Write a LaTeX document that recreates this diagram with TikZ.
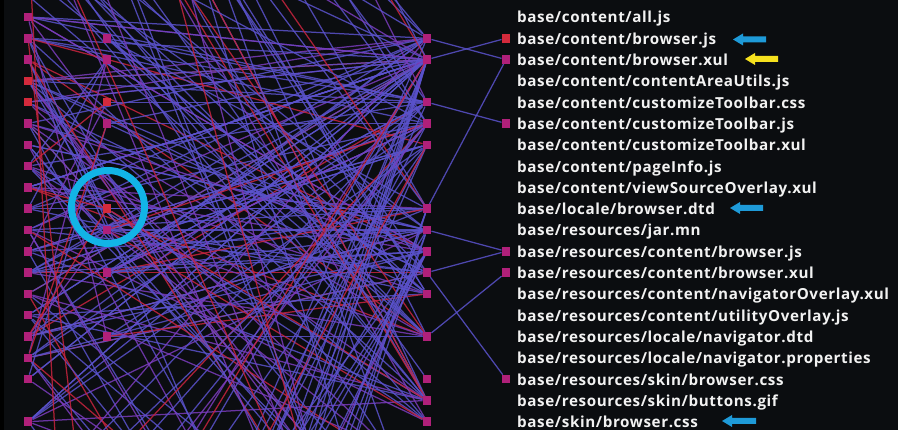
\documentclass[tikz,border=0pt]{standalone}
\usepackage{fontspec}
\setmainfont{Open Sans}
\newfontfamily\lblfont[LetterSpace=4]{Open Sans}
\definecolor{bgc}{HTML}{0B0D10}
\definecolor{lblue}{HTML}{5A52CC}
\definecolor{lpurp}{HTML}{7A3CBC}
\definecolor{lred}{HTML}{C8243E}
\definecolor{nmag}{HTML}{B0207A}
\definecolor{nred}{HTML}{D42A3C}
\definecolor{ringc}{HTML}{12B4E6}
\definecolor{abl}{HTML}{1E9AD8}
\definecolor{ayl}{HTML}{F6E11E}
\pgfdeclarelayer{bg}\pgfdeclarelayer{lines}\pgfsetlayers{bg,lines,main}
\newcommand\pickcol{\pgfmathtruncatemacro\myrc{random(1,20)}%
  \ifnum\myrc<14 \def\mylc{lblue}\else\ifnum\myrc<18 \def\mylc{lpurp}\else\def\mylc{lred}\fi\fi}
\begin{document}
\begin{tikzpicture}[x=1pt,y=-1pt,
  sq/.style={rectangle, inner sep=0pt, minimum size=8.5pt, fill=nmag},
  sqr/.style={sq, fill=nred},
  lk/.style={line width=1.25pt, draw opacity=0.85},
  lbl/.style={anchor=base west, text=white!95!black, font=\lblfont\bfseries\fontsize{15.2}{15}\selectfont, inner sep=0pt},
]
\begin{pgfonlayer}{bg}
\fill[bgc] (0,0) rectangle (898,430);
\fill[black] (0,0) rectangle (4,430);
\end{pgfonlayer}
\useasboundingbox (0,0) rectangle (898,430);
% positions
\foreach \k in {-40,...,80}{
  \coordinate (A\k) at (28,{17+21.3*\k});
  \coordinate (B\k) at (107,{17+21.3*\k});
  \coordinate (C\k) at (427,{17+21.3*\k});
  \coordinate (D\k) at (506,{17+21.3*\k});
}
% visible nodes
\foreach \k in {0,1,2,5,6,7,8,9,10,11,12,13,14,15,16,17,19} \node[sq] (A\k) at (A\k) {};
\foreach \k in {3,4} \node[sqr] (A\k) at (A\k) {};
\foreach \k in {1,2,5,10,12,15} \node[sq] (B\k) at (B\k) {};
\foreach \k in {4,9} \node[sqr] (B\k) at (B\k) {};
\foreach \k in {1,2,4,5,6,9,10,11,12,13,15,17,18,19} \node[sq] (C\k) at (C\k) {};
\foreach \k in {2,5,11,12,17} \node[sq] (D\k) at (D\k) {};
\node[sqr] (D1) at (D1) {};
% connectors
\begin{pgfonlayer}{lines}
\pgfmathsetseed{7}
\foreach \i in {1,...,90}{
  \pgfmathtruncatemacro\ms{{0,1,2,3,4,5,6,7,8,9,10,11,12,13,14,15,16,17,19}[random(0,18)]}
  \pgfmathtruncatemacro\mt{{1,1,1,2,2,2,2,4,5,6,9,10,10,11,11,12,12,12,13,15,17,18,19}[random(0,22)]}
  \pickcol
  \draw[lk,draw=\mylc] (A\ms) -- (C\mt);
}
\foreach \i in {1,...,30}{
  \pgfmathtruncatemacro\ms{{1,2,4,5,9,10,12,15}[random(0,7)]}
  \pgfmathtruncatemacro\mt{{1,2,2,4,5,6,9,10,11,12,13,15,17,18,19}[random(0,14)]}
  \pickcol
  \draw[lk,draw=\mylc] (B\ms) -- (C\mt);
}
\foreach \i in {1,...,25}{
  \pgfmathtruncatemacro\ms{random(-25,-1)}
  \pgfmathtruncatemacro\mt{{9,10,11,12,13,15,17,18,19,19,18}[random(0,10)]}
  \pickcol
  \draw[lk,draw=\mylc] (A\ms) -- (C\mt);
}
\foreach \i in {1,...,30}{
  \pgfmathtruncatemacro\ms{{0,1,2,3,4,5,6,7,8,9,10,11,12,13,14,15,16,17,19}[random(0,18)]}
  \pgfmathtruncatemacro\mt{random(21,45)}
  \pickcol
  \draw[lk,draw=\mylc] (A\ms) -- (C\mt);
}
\foreach \i in {1,...,36}{
  \pgfmathtruncatemacro\ms{random(20,70)}
  \pgfmathtruncatemacro\mt{{1,1,2,2,4,5,6,9,10,11}[random(0,9)]}
  \pickcol
  \draw[lk,draw=\mylc] (A\ms) -- (C\mt);
}
\foreach \i in {1,...,15}{
  \pgfmathtruncatemacro\ms{{0,1,2,3,4,5,6,7,8,9,10,11,12,13,14,15,16,17,19}[random(0,18)]}
  \pgfmathtruncatemacro\mt{{1,2,4,5,9,10,12,15}[random(0,7)]}
  \pickcol
  \draw[lk,draw=\mylc] (A\ms) -- (B\mt);
}
\foreach \i in {1,...,12}{
  \pgfmathtruncatemacro\ms{random(-30,-3)}
  \pgfmathtruncatemacro\mt{{1,2,4,5,1,2}[random(0,5)]}
  \pickcol
  \draw[lk,draw=\mylc] (B\ms) -- (C\mt);
}
\foreach \i in {1,...,10}{
  \pgfmathtruncatemacro\ms{random(-30,-5)}
  \pgfmathtruncatemacro\mt{random(22,50)}
  \pickcol
  \draw[lk,draw=\mylc] (A\ms) -- (C\mt);
}
\draw[lk,draw=lred] (A-4) -- (B65);
\draw[lk,draw=lred] (A1) -- (B33);
\foreach \a/\b in {1/2,2/1,4/5,9/2,10/11,12/11,12/17,15/12}
  \draw[lk,draw=lblue] (C\a) -- (D\b);
\end{pgfonlayer}
% labels
\foreach \txt [count=\k from 0] in {base/content/all.js,base/content/browser.js,base/content/browser.xul,base/content/contentAreaUtils.js,base/content/customizeToolbar.css,base/content/customizeToolbar.js,base/content/customizeToolbar.xul,base/content/pageInfo.js,base/content/viewSourceOverlay.xul,base/locale/browser.dtd,base/resources/jar.mn,base/resources/content/browser.js,base/resources/content/browser.xul,base/resources/content/navigatorOverlay.xul,base/resources/content/utilityOverlay.js,base/resources/locale/navigator.dtd,base/resources/locale/navigator.properties,base/resources/skin/browser.css,base/resources/skin/buttons.gif,base/skin/browser.css}
  \node[lbl] (L\k) at (517,{23+21.3*\k}) {\txt};
% highlight ring
\node[circle, draw=ringc, line width=7pt, minimum size=73pt, inner sep=0pt] (ring) at (108,207) {};
% arrows
\fill[abl] (733,39.5) -- (743,33.5) -- (743,36.5) -- (766,36.5) -- (766,42.5) -- (743,42.5) -- (743,45.5) -- cycle;
\fill[ayl] (745,59) -- (755,53) -- (755,56) -- (778,56) -- (778,62) -- (755,62) -- (755,65) -- cycle;
\fill[abl] (730,208) -- (740,202) -- (740,205) -- (763,205) -- (763,211) -- (740,211) -- (740,214) -- cycle;
\fill[abl] (722,421) -- (732,415) -- (732,418) -- (756,418) -- (756,424) -- (732,424) -- (732,427) -- cycle;
\end{tikzpicture}
\end{document}
